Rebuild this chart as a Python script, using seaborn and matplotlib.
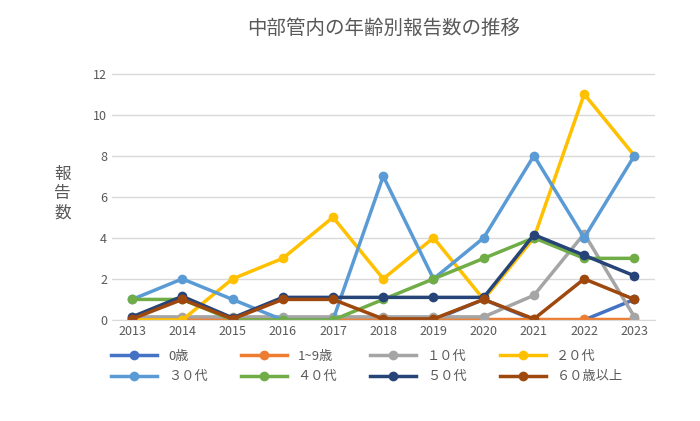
import pandas as pd
import matplotlib.pyplot as plt
import seaborn as sns

plt.rcParams['font.family'] = 'Noto Sans CJK JP'

years = list(range(2013, 2024))
labels = ['0歳', '1~9歳', '１０代', '２０代', '３０代', '４０代', '５０代', '６０歳以上']
colors = ['#4472C4', '#ED7D31', '#A5A5A5', '#FFC000', '#5B9BD5', '#70AD47', '#264478', '#9E480E']
v0 = [0, 0, 0, 0, 0, 0, 0, 1, 0, 0, 1]
v1 = [0.05] * 11
v10 = [0.15, 0.15, 0.15, 0.15, 0.15, 0.15, 0.15, 0.15, 1.2, 4.2, 0.15]
v20 = [0, 0, 2, 3, 5, 2, 4, 1, 4, 11, 8]
v30 = [1, 2, 1, 0, 0, 7, 2, 4, 8, 4, 8]
v40 = [1, 1, 0, 0, 0, 1, 2, 3, 4, 3, 3]
v50 = [0.15, 1.15, 0.1, 1.1, 1.1, 1.1, 1.1, 1.1, 4.15, 3.15, 2.15]
v60 = [0.05, 1, 0.05, 1, 1, 0.05, 0.05, 1, 0.05, 2, 1]
series = [v0, v1, v10, v20, v30, v40, v50, v60]

df = pd.DataFrame([(y, lab, v) for lab, vals in zip(labels, series) for y, v in zip(years, vals)],
                  columns=['year', 'age', 'count'])

fig, ax = plt.subplots(figsize=(7, 4.21), dpi=100)
fig.subplots_adjust(left=0.16, right=0.935, top=0.84, bottom=0.24)
sns.lineplot(data=df, x='year', y='count', hue='age', palette=colors, marker='o',
             markersize=7, markeredgewidth=0, linewidth=2.5, ax=ax)
ax.set_ylim(0, 12.3)
ax.set_yticks(range(0, 13, 2))
ax.set_xticks(years)
ax.set_xlim(2012.6, 2023.4)
ax.grid(axis='y', color='#D9D9D9', linewidth=1)
ax.set_axisbelow(True)
for s in ['top', 'right', 'left']:
    ax.spines[s].set_visible(False)
ax.spines['bottom'].set_color('#D9D9D9')
ax.tick_params(length=0, labelsize=9, colors='#595959')
ax.set_xlabel('')
ax.set_ylabel('報\n告\n数', rotation=0, fontsize=12, color='#595959', labelpad=22, va='center')
ax.set_title('中部管内の年齢別報告数の推移', fontsize=14, color='#595959', pad=24)

# legend filled row-wise like the original
h, l = ax.get_legend_handles_labels()
order = [0, 4, 1, 5, 2, 6, 3, 7]
ax.legend([h[i] for i in order], [l[i] for i in order], loc='upper center',
          bbox_to_anchor=(0.47, -0.07), ncol=4, frameon=False, fontsize=9.5,
          labelcolor='#595959', handlelength=3.5, columnspacing=2.5, labelspacing=0.6)
fig.savefig('out.png')
